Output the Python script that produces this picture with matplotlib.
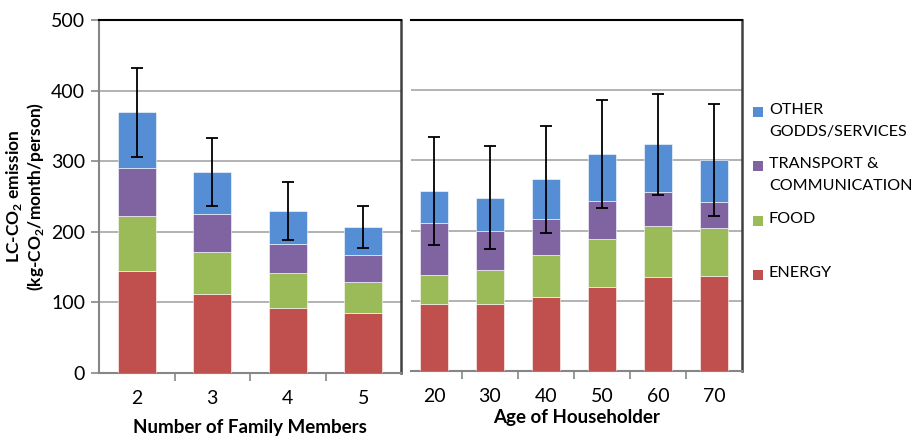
import matplotlib.pyplot as plt
import matplotlib.patches as patches
import numpy as np

plt.rcParams['font.family'] = ['Lato', 'DejaVu Sans']
plt.rcParams['mathtext.fontset'] = 'custom'
plt.rcParams['mathtext.rm'] = 'Lato'
plt.rcParams['mathtext.bf'] = 'Lato:bold'

# family size breakdown (kg-CO2/month/person)
family_labels = ['2', '3', '4', '5']
family_energy = [145, 112, 92, 85]
family_food = [77, 59, 49, 44]
family_transport = [69, 54, 42, 38]
family_other = [78, 60, 47, 40]
family_err = [63, 48, 41, 30]

# householder age breakdown
age_labels = ['20', '30', '40', '50', '60', '70']
age_energy = [95, 96, 106, 120, 134, 135]
age_food = [42, 48, 59, 68, 72, 68]
age_transport = [74, 55, 51, 54, 49, 38]
age_other = [45, 48, 57, 67, 68, 60]
age_err = [77, 73, 76, 77, 72, 80]

series_names = ['ENERGY', 'FOOD', 'TRANSPORT &\nCOMMUNICATION', 'OTHER\nGODDS/SERVICES']
colors = ['#C0504D', '#9BBB59', '#8064A2', '#558ED5']
grid_c = '#A6A6A6'
spine_gray = '#868686'

W, H = 922, 438
fig = plt.figure(figsize=(W / 100, H / 100), dpi=100)


def px_axes(x0, x1, y0, y1):
    return fig.add_axes([x0 / W, 1 - y1 / H, (x1 - x0) / W, (y1 - y0) / H])


def stacked(ax, labels, parts, err):
    x = np.arange(len(labels))
    bottom = np.zeros(len(labels))
    for vals, c in zip(parts, colors):
        ax.bar(x, vals, 0.5, bottom=bottom, color=c, edgecolor='white',
               linewidth=0.4, zorder=3)
        bottom = bottom + np.array(vals)
    ax.errorbar(x, bottom, yerr=err, fmt='none', ecolor='black',
                elinewidth=1.3, capsize=4, capthick=1.3, zorder=4)
    ax.set_ylim(0, 500)
    ax.set_yticks(range(0, 501, 100))
    ax.yaxis.grid(True, color=grid_c, linewidth=1.2, zorder=0)
    ax.set_axisbelow(True)
    ax.set_xticks(x)
    ax.set_xticklabels(labels, fontsize=14)
    ax.tick_params(axis='x', which='major', length=0, pad=12)
    ax.set_xticks(np.arange(len(labels) - 1) + 0.5, minor=True)
    ax.tick_params(axis='x', which='minor', length=6, width=1.2, color=spine_gray)
    ax.spines['bottom'].set_color(spine_gray)
    ax.spines['bottom'].set_linewidth(1.5)
    ax.spines['top'].set_color('black')
    ax.spines['top'].set_linewidth(1.5)
    ax.spines['right'].set_color('#404040')
    ax.spines['right'].set_linewidth(1.8)


# left panel: family members
ax1 = px_axes(99, 401, 20, 373)
stacked(ax1, family_labels,
        [family_energy, family_food, family_transport, family_other],
        family_err)
ax1.set_xlim(-0.5, 3.5)
ax1.spines['left'].set_color(spine_gray)
ax1.spines['left'].set_linewidth(1.5)
ax1.tick_params(axis='y', length=6, width=1.2, color=spine_gray,
                labelsize=14, pad=4)
ax1.set_xlabel('Number of Family Members', fontsize=13.5, fontweight='bold',
               labelpad=9)
ax1.set_ylabel('LC-CO$_\\mathbf{2}$ emission\n(kg-CO$_\\mathbf{2}$/month/person)',
               fontsize=12.5, fontweight='bold', linespacing=1.05)
ax1.yaxis.set_label_coords(-0.175, 0.5)

# right panel: householder age
ax2 = px_axes(411, 742, 20, 371)
stacked(ax2, age_labels,
        [age_energy, age_food, age_transport, age_other], age_err)
ax2.set_xlim(-0.41, 5.5)
ax2.spines['left'].set_visible(False)
ax2.tick_params(axis='y', left=False, labelleft=False)
ax2.set_xlabel('Age of Householder', fontsize=13.5, fontweight='bold',
               labelpad=3)

# legend: one square per series, aligned with the first text line
for i, (name, c) in enumerate(zip(series_names[::-1], colors[::-1])):
    y = 112 + 54.3 * i
    fig.patches.append(patches.Rectangle((753 / W, 1 - (y + 5) / H), 10 / W, 10 / H,
                                         transform=fig.transFigure,
                                         facecolor=c, edgecolor='none'))
    fig.text(769 / W, 1 - (y - 9) / H, name, fontsize=11.6, va='top', ha='left',
             linespacing=1.7)

fig.savefig('out.png', dpi=100)
